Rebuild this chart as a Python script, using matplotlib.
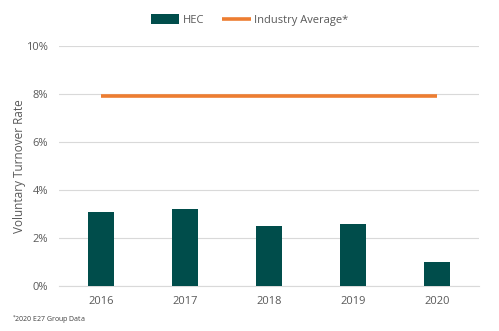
import matplotlib
matplotlib.use("Agg")
import matplotlib.pyplot as plt
from matplotlib.ticker import FuncFormatter

years = ["2016", "2017", "2018", "2019", "2020"]
hec = [3.1, 3.2, 2.5, 2.6, 1.0]
industry = [7.9, 7.9, 7.9, 7.9, 7.9]

plt.rcParams['font.family'] = ['Open Sans', 'DejaVu Sans']
fig = plt.figure(figsize=(4.99, 3.31), dpi=100)
ax = fig.add_axes([59/499, 1-286/331, 420/499, 240/331])

x = list(range(len(years)))
bars = ax.bar(x, hec, width=0.31, color="#004D4B", label="HEC", zorder=3)
line, = ax.plot(x, industry, color="#ED7D31", lw=2.6, label="Industry Average*", zorder=4, solid_capstyle='butt')

ax.set_xlim(-0.5, 4.5)
ax.set_ylim(0, 10)
ax.set_yticks([0, 2, 4, 6, 8, 10])
ax.yaxis.set_major_formatter(FuncFormatter(lambda v, p: f"{int(v)}%"))
ax.set_xticks(x)
ax.set_xticklabels(years)
ax.grid(axis='y', color="#D9D9D9", lw=0.8, zorder=0)
for s in ["top", "right", "left"]:
    ax.spines[s].set_visible(False)
ax.spines["bottom"].set_color("#D9D9D9")
ax.tick_params(axis='both', length=0, colors="#595959", labelsize=8)
ax.tick_params(axis='x', pad=7)
ax.tick_params(axis='y', pad=8)
ax.set_ylabel("Voluntary Turnover Rate", color="#595959", fontsize=8.5, labelpad=0)

leg = fig.legend([bars, line], ["HEC", "Industry Average*"], loc="center",
                 bbox_to_anchor=(0.5, 1-20/331), ncol=2, frameon=False,
                 fontsize=8, handlelength=2.6, handleheight=0.9, columnspacing=1.6, handletextpad=0.3)
for t in leg.get_texts():
    t.set_color("#595959")

fig.text(12/499, 1-320/331, "$^{*}$2020 E27 Group Data", fontsize=5, color="#404040", va="center")

fig.savefig("out.png", dpi=100)
